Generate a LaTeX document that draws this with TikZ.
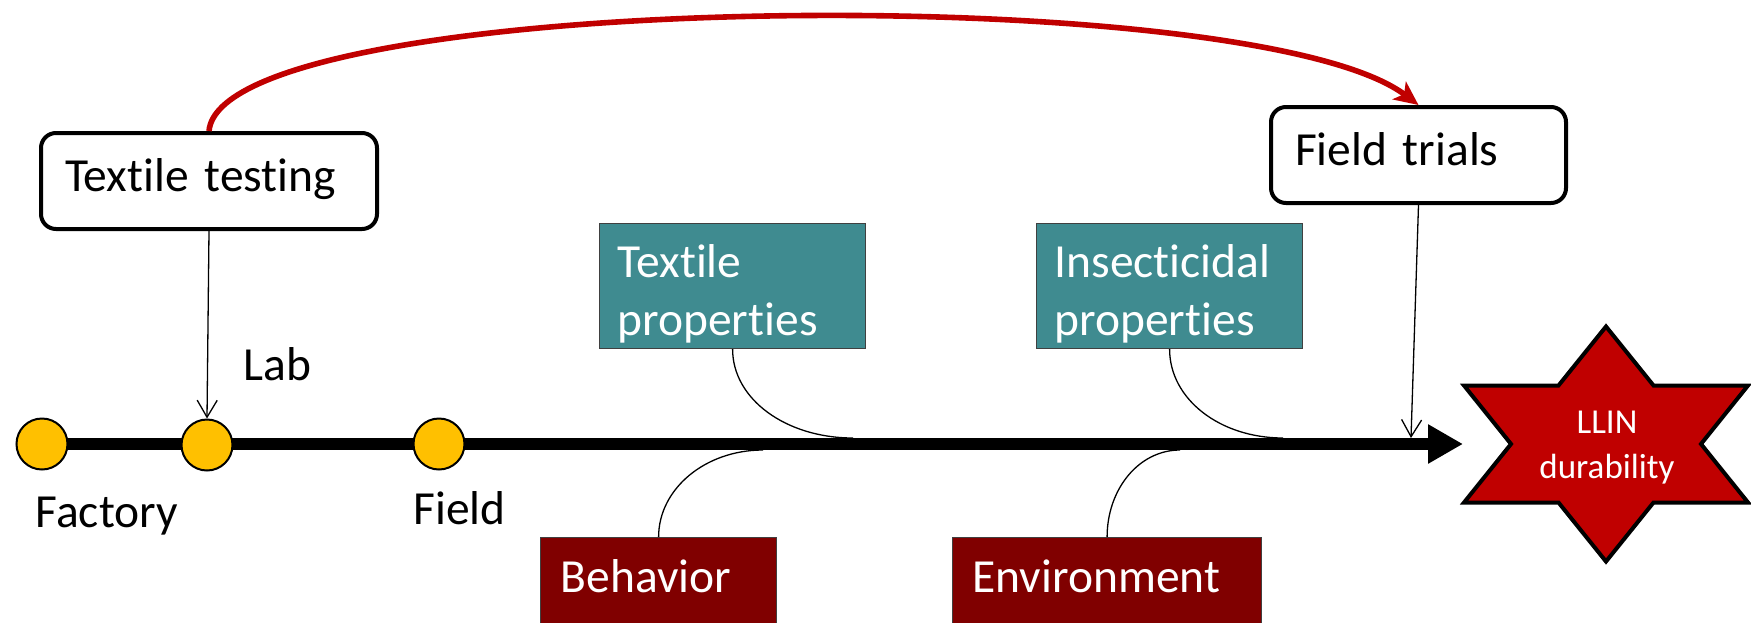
\documentclass[tikz,border=0pt]{standalone}
\usepackage{fontspec}
\setmainfont[Ligatures={NoCommon}]{Carlito}
\usetikzlibrary{arrows.meta}
\definecolor{tealbox}{RGB}{63,139,144}
\definecolor{darkred}{RGB}{128,0,0}
\definecolor{llinred}{RGB}{192,0,0}
\definecolor{dotyellow}{RGB}{255,192,0}

\begin{document}
\begin{tikzpicture}[x=0.5pt, y=-0.5pt, line width=0.65pt,
  font=\fontsize{23.75}{29}\selectfont,
  testbox/.style={draw, line width=2pt, rounded corners=7.5pt, inner xsep=12pt,
    inner ysep=0pt, text height=29pt, text depth=19pt, align=left, anchor=north west},
  propbox/.style={draw=black!75, line width=0.6pt, fill=tealbox, text=white, inner xsep=9pt,
    inner ysep=0pt, text height=27pt, text depth=35.5pt, align=left, anchor=north west},
  factbox/.style={draw=black!75, line width=0.6pt, fill=darkred, text=white, inner xsep=10pt,
    inner ysep=0pt, text height=27.5pt, text depth=34pt, align=left, anchor=north west},
  stopdot/.style={circle, draw, line width=1pt, fill=dotyellow, minimum size=25.5pt, inner sep=0pt},
  placelbl/.style={anchor=base west, inner sep=0pt},
  thin arrow/.style={-{Straight Barb[length=8.5pt,width=10pt]}},
  red arrow/.style={draw=llinred, line width=2.8pt, -{Stealth[length=12pt,width=11pt,inset=3pt]}}]
  \useasboundingbox (0,0) rectangle (1751,622);

  % time line
  \coordinate (start) at (42,444);
  \coordinate (tip) at (1463,444);
  \draw[line width=6pt, -{Triangle[length=17.5pt,width=18.5pt]}] (start) -- (tip);
  \node[stopdot] (factory) at (42,444) {};
  \node[stopdot] (lab) at (207,445) {};
  \node[stopdot] (field) at (439,444) {};
  \node[placelbl] (factorylbl) at (35,527) {Factory};
  \node[placelbl] (lablbl) at (243,380) {Lab};
  \node[placelbl] (fieldlbl) at (413,524) {Field};

  % test boxes
  \node[testbox, text width=144pt] (tt) at (39,131) {Textile testing};
  \node[testbox, text width=123.5pt] (ft) at (1269,105) {Field trials};
  \draw[thin arrow] (tt.south) -- (lab.north);
  \coordinate (ftend) at (1411,438);
  \draw[thin arrow] (ft.south) -- (ftend);
  \draw[red arrow] (tt.north) .. controls (222,-10) and (1250,-22) .. (ft.north);

  % factors above
  \node[propbox, text width=115pt] (tp) at (599,223) {Textile\\properties};
  \node[propbox, text width=115pt] (ip) at (1036,223) {Insecticidal\\properties};
  \coordinate (tpend) at (853,438);
  \coordinate (ipend) at (1283,438);
  \draw (tp.south) .. controls +(0,50) and +(-67,0) .. (tpend);
  \draw (ip.south) .. controls +(0,50) and +(-63,0) .. (ipend);

  % factors below
  \node[factbox, text width=98pt] (be) at (540,537) {Behavior};
  \node[factbox, text width=134.5pt] (en) at (952,537) {Environment};
  \coordinate (beend) at (763,450);
  \coordinate (enend) at (1180,450);
  \draw (be.north) .. controls +(0,-48) and +(-58,0) .. (beend);
  \draw (en.north) .. controls +(0,-48) and +(-41,0) .. (enend);

  % star
  \draw[line width=2pt, fill=llinred, line join=miter]
    (1606,326.5) -- (1653.5,385.5) -- (1748,385.5) -- (1701,444) -- (1748,502.5)
    -- (1653.5,502.5) -- (1606,561.5) -- (1558.5,502.5) -- (1464,502.5) -- (1511,444)
    -- (1464,385.5) -- (1558.5,385.5) -- cycle;
  \node[text=white, align=center, inner sep=0pt, font=\fontsize{17.5}{22.5}\selectfont]
    (llin) at (1607,448) {LLIN\\durability};
\end{tikzpicture}
\end{document}
